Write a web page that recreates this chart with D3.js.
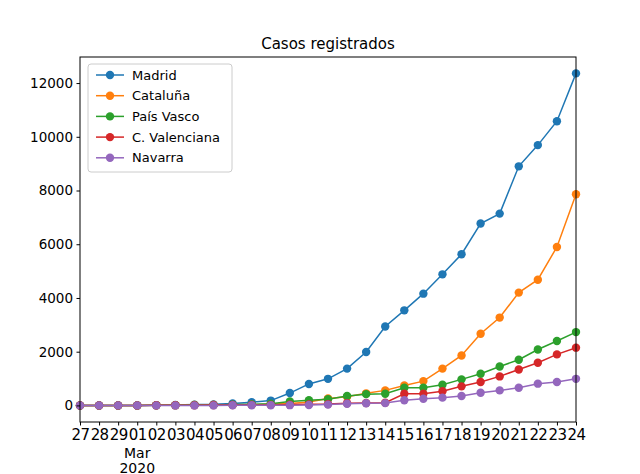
<!DOCTYPE html>
<html><head><meta charset="utf-8">
<script src="https://cdn.jsdelivr.net/npm/d3@7"></script>
<style>body{margin:0;background:#fff}text{font-family:"DejaVu Sans",sans-serif}</style>
</head><body>
<script>
// Feb 27 .. Mar 24, 2020
var dayLabels = ["27","28","29","01","02","03","04","05","06","07","08","09","10","11","12","13","14","15","16","17","18","19","20","21","22","23","24"];
var madrid = [0,0,0,0,10,15,30,40,70,120,180,460,800,990,1370,1990,2940,3540,4160,4880,5630,6770,7140,8900,9690,10580,12360];
var cataluna = [0,0,0,0,5,10,15,15,20,25,50,75,130,260,320,450,560,745,905,1370,1860,2670,3270,4200,4680,5900,7860];
var paisVasco = [0,0,0,0,5,10,15,20,30,40,60,150,195,230,350,420,435,660,660,770,970,1180,1450,1700,2080,2400,2730];
var cValenciana = [0,0,0,0,5,10,10,15,15,20,20,30,40,50,80,90,100,435,435,530,710,870,1080,1340,1590,1900,2150];
var navarra = [0,0,0,0,0,0,0,0,5,5,5,10,15,30,60,80,86,190,250,290,350,470,560,660,810,870,990];
var seriesNames = ["Madrid","Cataluña","País Vasco","C. Valenciana","Navarra"];
var seriesData = [madrid, cataluna, paisVasco, cValenciana, navarra];
var colors = ["#1f77b4","#ff7f0e","#2ca02c","#d62728","#9467bd"];
var yTicks = [0,2000,4000,6000,8000,10000,12000];

var W = 640, H = 474;
var margin = {top: 57, right: 64, bottom: 52, left: 80};
var width = W - margin.left - margin.right, height = H - margin.top - margin.bottom;

var svg = d3.select("body").append("svg").attr("width", W).attr("height", H);
var g = svg.append("g").attr("transform", "translate(" + margin.left + "," + margin.top + ")");

var x = d3.scaleLinear().domain([0, dayLabels.length - 1]).range([0, width]);
var y = d3.scaleLinear().domain([-617, 12970]).range([height, 0]);

var line = d3.line().x(function (d, i) { return x(i); }).y(function (d) { return y(d); });

seriesData.forEach(function (s, k) {
    g.append("path").datum(s).attr("d", line)
        .attr("fill", "none").attr("stroke", colors[k]).attr("stroke-width", 1.5);
    g.selectAll(".pt" + k).data(s).enter().append("circle")
        .attr("cx", function (d, i) { return x(i); })
        .attr("cy", function (d) { return y(d); })
        .attr("r", 4.2).attr("fill", colors[k]);
});

// Axes
var yAxis = d3.axisLeft(y).tickValues(yTicks).tickSize(3.5).tickPadding(3.5).tickFormat(d3.format("d"));
var xAxis = d3.axisBottom(x).tickValues(d3.range(dayLabels.length)).tickSize(3.5).tickPadding(3.5)
    .tickFormat(function (d) { return dayLabels[d]; });
var gy = g.append("g").call(yAxis);
var gx = g.append("g").attr("transform", "translate(0," + height + ")").call(xAxis);
[gx, gy].forEach(function (a) {
    a.select(".domain").remove();
    a.selectAll("text").attr("font-size", 13.5).attr("fill", "#000").style("font-family", "DejaVu Sans");
    a.selectAll("line").attr("stroke", "#000");
});
gx.selectAll(".tick text").attr("font-size", 15).attr("letter-spacing", -0.6);
gx.append("text").attr("x", x(3)).attr("y", 36).attr("text-anchor", "middle").attr("fill", "#000")
    .attr("font-size", 14).text("Mar");
gx.append("text").attr("x", x(3)).attr("y", 51).attr("text-anchor", "middle").attr("fill", "#000")
    .attr("font-size", 14).text("2020");

g.append("rect").attr("width", width).attr("height", height)
    .attr("fill", "none").attr("stroke", "#000").attr("stroke-width", 1);

svg.append("text").attr("x", margin.left + width / 2).attr("y", 49).attr("text-anchor", "middle")
    .attr("font-size", 15).text("Casos registrados");

// Legend
var lg = g.append("g").attr("transform", "translate(8,7)");
lg.append("rect").attr("width", 144).attr("height", 108).attr("rx", 3)
    .attr("fill", "#fff").attr("fill-opacity", 0.8).attr("stroke", "#ccc");
seriesNames.forEach(function (n, k) {
    var yy = 11 + k * 20.7;
    lg.append("line").attr("x1", 8).attr("x2", 36).attr("y1", yy).attr("y2", yy)
        .attr("stroke", colors[k]).attr("stroke-width", 1.5);
    lg.append("circle").attr("cx", 22).attr("cy", yy).attr("r", 4.2).attr("fill", colors[k]);
    lg.append("text").attr("x", 44).attr("y", yy + 4.5).attr("font-size", 13).text(n);
});
</script>
</body></html>
